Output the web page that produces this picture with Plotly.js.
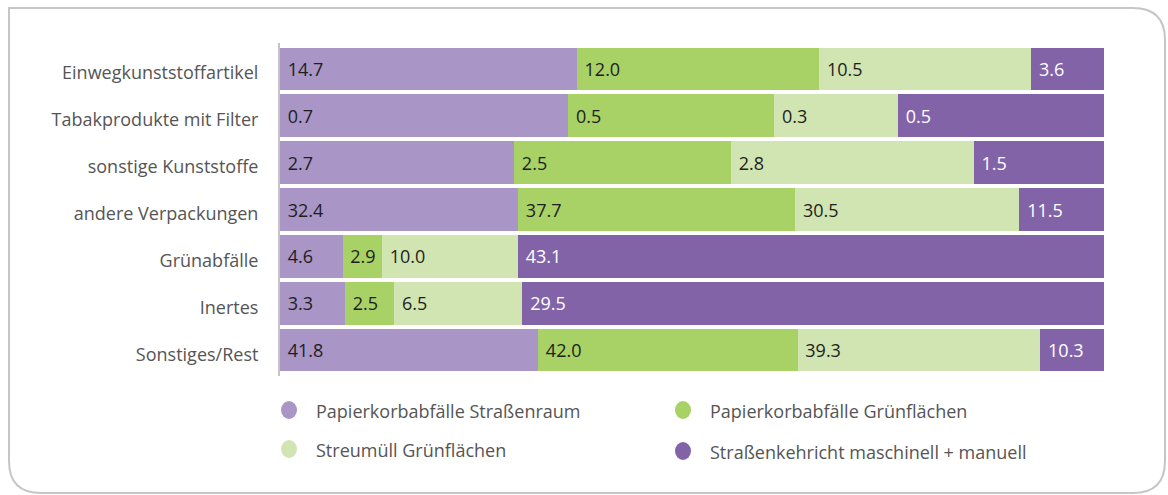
<!DOCTYPE html>
<html>
<head>
<meta charset="utf-8">
<script src="https://cdn.plot.ly/plotly-3.0.1.min.js"></script>
<style>html,body{margin:0;padding:0;background:#fff;}#chart{width:1168px;height:495px;}</style>
</head>
<body>
<div id="chart"></div>
<script>
const categories = ['Einwegkunststoffartikel','Tabakprodukte mit Filter','sonstige Kunststoffe','andere Verpackungen','Grünabfälle','Inertes','Sonstiges/Rest'];
const seriesNames = ['Papierkorbabfälle Straßenraum','Papierkorbabfälle Grünflächen','Streumüll Grünflächen','Straßenkehricht maschinell + manuell'];
const strassenraum = [14.7, 0.7, 2.7, 32.4, 4.6, 3.3, 41.8];
const gruenPapier = [12.0, 0.5, 2.5, 37.7, 2.9, 2.5, 42.0];
const streumuell = [10.5, 0.3, 2.8, 30.5, 10.0, 6.5, 39.3];
const kehricht = [3.6, 0.5, 1.5, 11.5, 43.1, 29.5, 10.3];

const colors = ['#a995c6', '#a8d166', '#d1e5b2', '#8363a8'];
const textColors = ['#1e1e1e', '#1e1e1e', '#1e1e1e', '#ffffff'];
const seriesValues = [strassenraum, gruenPapier, streumuell, kehricht];

const W = 1168, H = 495;
const L = 280, R = 64, T = 43, B = 119;
const pw = W - L - R, ph = H - T - B;
const px = v => (v - L) / pw;
const py = v => (H - B - v) / ph;

const traces = seriesValues.map((vals, i) => ({
  type: 'bar',
  orientation: 'h',
  name: seriesNames[i],
  y: categories,
  x: vals,
  text: vals.map(v => v.toFixed(1)),
  texttemplate: '\u00A0%{text}',
  textposition: 'inside',
  insidetextanchor: 'start',
  textangle: 0,
  constraintext: 'none',
  textfont: {family: 'Open Sans', size: 18, color: textColors[i]},
  marker: {color: colors[i], line: {width: 0}},
  hoverinfo: 'none',
  showlegend: false
}));

// legend drawn as circles + labels
const legendPos = [[289, 410], [683, 410], [289, 449], [683, 451]];
const shapes = [];
const annotations = [];
legendPos.forEach((p, i) => {
  shapes.push({
    type: 'circle', xref: 'paper', yref: 'paper',
    xsizemode: 'pixel', ysizemode: 'pixel',
    xanchor: px(p[0]), yanchor: py(p[1]),
    x0: -8, x1: 8, y0: -9, y1: 9,
    fillcolor: colors[i], line: {width: 0}
  });
  annotations.push({
    xref: 'paper', yref: 'paper', x: px(p[0] + 25), y: py(p[1] + 1),
    xanchor: 'left', yanchor: 'middle', showarrow: false,
    text: seriesNames[i],
    font: {family: 'Open Sans', size: 18, color: '#555555'}
  });
});

// rounded frame
const r = 32, fl = 9, ft = 8, fr = 1165, fb = 493;
const path = [
  'M', px(fl), py(fb - r),
  'L', px(fl), py(ft),
  'L', px(fr - r), py(ft),
  'Q', px(fr), py(ft), px(fr), py(ft + r),
  'L', px(fr), py(fb - r),
  'Q', px(fr), py(fb), px(fr - r), py(fb),
  'L', px(fl + r), py(fb),
  'Q', px(fl), py(fb), px(fl), py(fb - r),
  'Z'
].join(' ');
shapes.push({type: 'path', xref: 'paper', yref: 'paper', path: path,
  line: {color: '#c6c6c6', width: 2}, fillcolor: 'rgba(0,0,0,0)', layer: 'below'});

const layout = {
  width: W, height: H,
  margin: {l: L, r: R, t: T, b: B, pad: 0},
  paper_bgcolor: '#ffffff', plot_bgcolor: '#ffffff',
  barmode: 'stack', barnorm: 'percent', bargap: 0.095,
  showlegend: false,
  uniformtext: {mode: 'show', minsize: 18},
  font: {family: 'Open Sans', color: '#555555'},
  xaxis: {range: [0, 100], visible: false, fixedrange: true},
  yaxis: {
    type: 'category', range: [6.55, -0.55],
    showline: true, linecolor: '#c4c4c4', linewidth: 2,
    showgrid: false, zeroline: false, ticks: '',
    ticklabelstandoff: 16,
    ticklabelshift: -4,
    tickfont: {family: 'Open Sans', size: 18, color: '#555555'}
  },
  shapes: shapes,
  annotations: annotations
};

Plotly.newPlot('chart', traces, layout, {displayModeBar: false, staticPlot: true});
</script>
</body>
</html>
